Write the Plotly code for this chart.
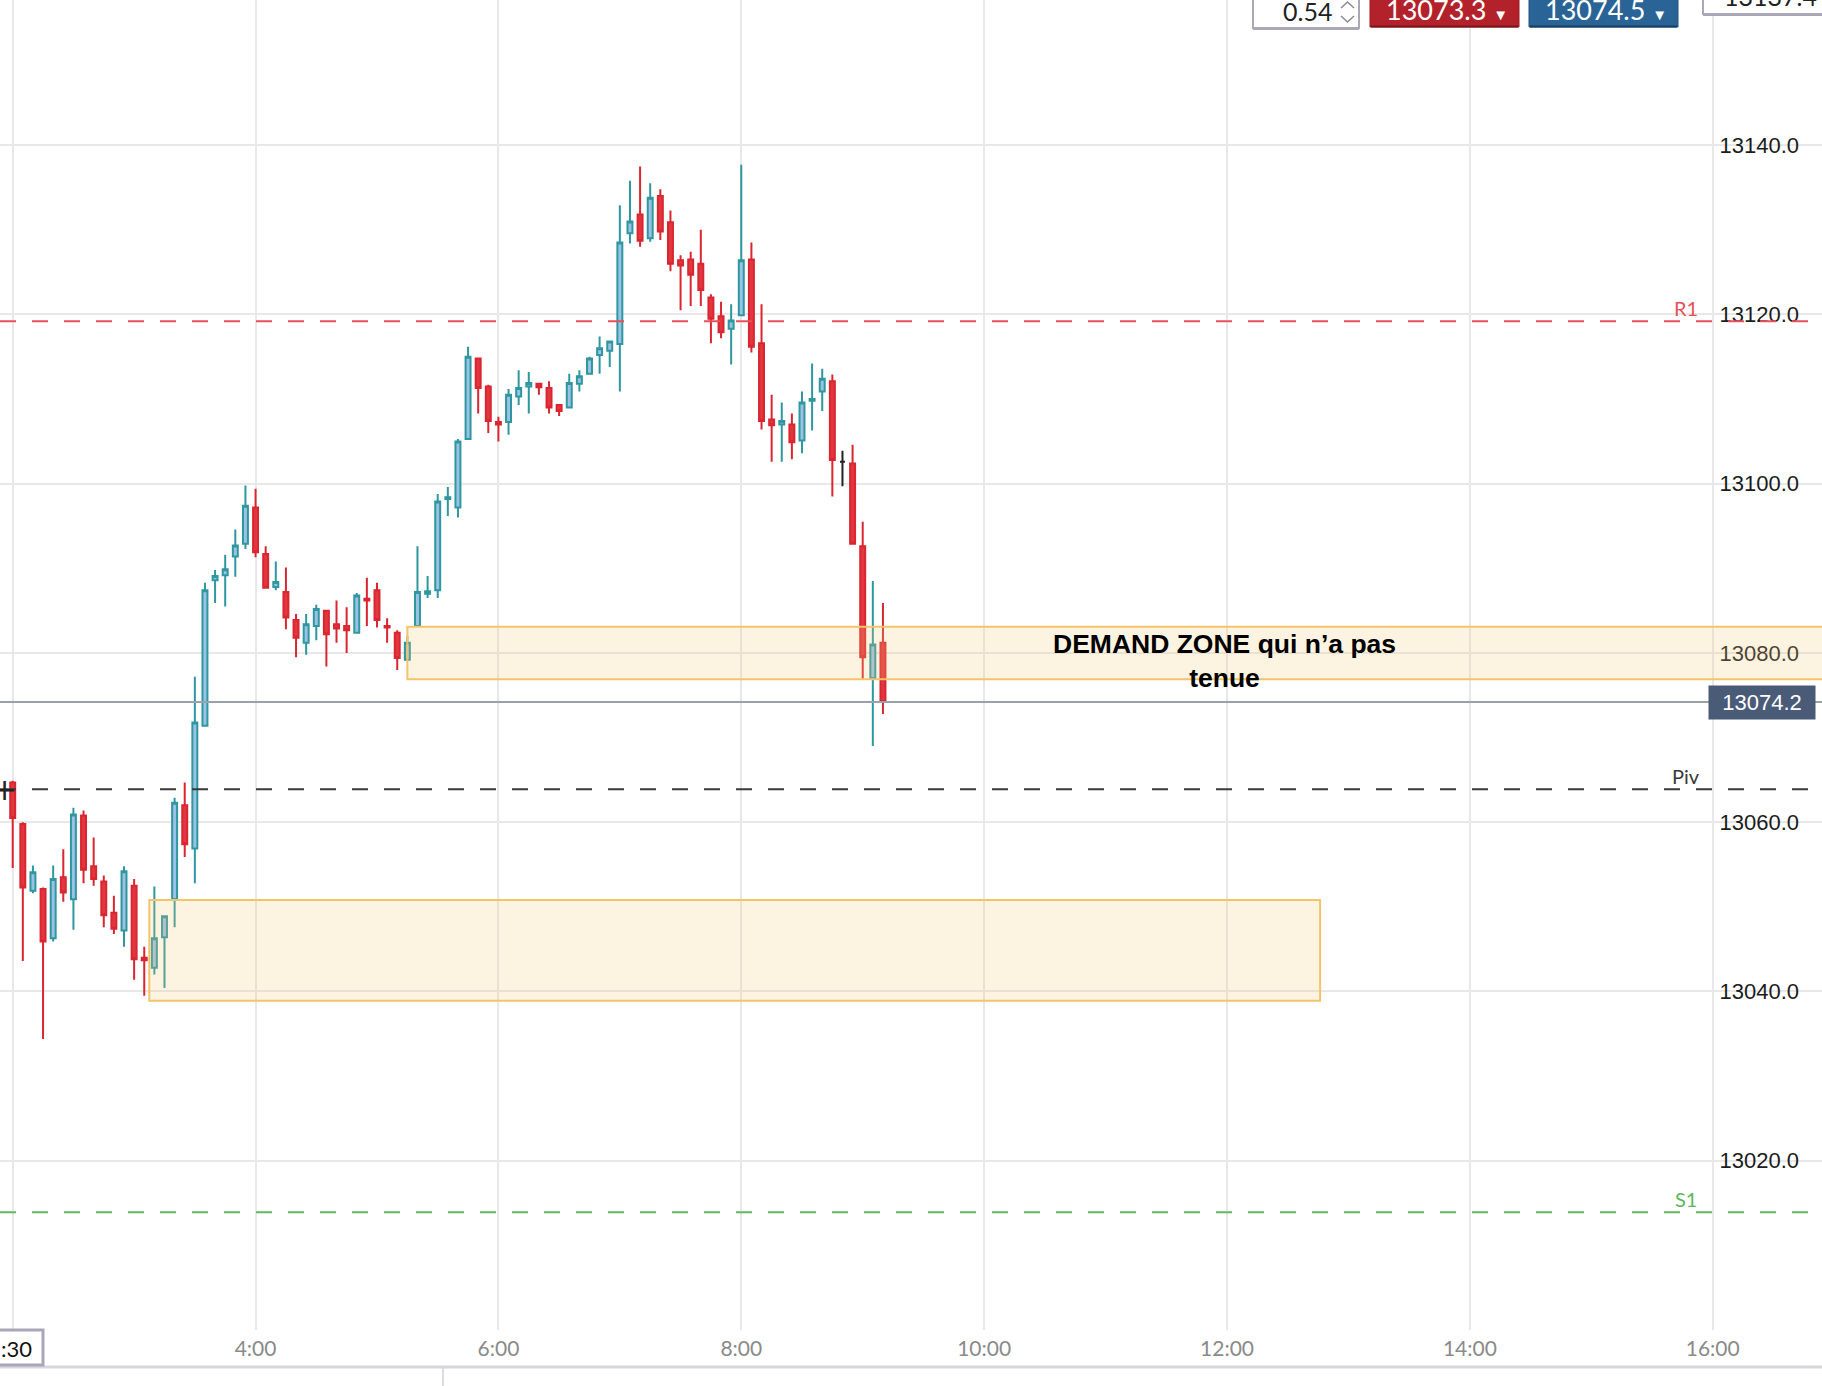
import pandas as pd
import plotly.graph_objects as go

# ---------------- data ----------------
DAY = "2021-01-04"
opens = [13064.7, 13059.8, 13051.9, 13052.1, 13046.3, 13053.5, 13050.9, 13060.8, 13054.8, 13053.0,
         13049.3, 13047.2, 13052.5, 13044.0, 13042.8, 13046.4, 13050.9, 13062.0, 13056.9, 13071.4,
         13088.6, 13089.2, 13091.4, 13092.9, 13097.2, 13091.7, 13087.8, 13087.2, 13083.9, 13081.2,
         13083.2, 13085.0, 13083.4, 13083.2, 13082.4, 13086.4, 13087.4, 13083.2, 13082.4, 13079.2,
         13083.2, 13087.0, 13087.4, 13098.2, 13097.2, 13105.3, 13114.8, 13111.5, 13107.3, 13107.3,
         13110.3, 13111.5, 13111.8, 13111.3, 13109.3, 13109.0, 13111.8, 13113.0, 13115.2, 13115.7,
         13116.5, 13129.6, 13131.8, 13129.0, 13134.0, 13130.9, 13126.4, 13126.5, 13126.0, 13122.0,
         13119.8, 13118.3, 13119.9, 13126.5, 13116.6, 13107.6, 13107.0, 13107.0, 13105.1, 13109.8,
         13110.9, 13112.1, 13102.6, 13102.4, 13092.6, 13077.0, 13081.2]
highs = [13064.9, 13060.0, 13054.9, 13052.3, 13054.9, 13056.8, 13061.7, 13061.4, 13058.2, 13053.7,
         13051.3, 13054.8, 13053.3, 13045.3, 13052.4, 13049.0, 13062.9, 13064.7, 13077.2, 13088.3,
         13089.8, 13091.6, 13094.6, 13099.8, 13099.4, 13092.6, 13090.8, 13090.1, 13084.6, 13084.6,
         13085.7, 13085.1, 13086.2, 13085.4, 13087.1, 13088.9, 13088.3, 13084.1, 13082.7, 13082.0,
         13092.6, 13089.1, 13098.8, 13099.6, 13105.3, 13116.2, 13114.8, 13111.7, 13107.9, 13111.2,
         13113.4, 13113.2, 13111.8, 13112.1, 13109.3, 13113.0, 13113.4, 13115.0, 13117.4, 13116.8,
         13132.9, 13135.8, 13137.5, 13135.5, 13134.8, 13132.3, 13127.0, 13127.4, 13130.0, 13122.4,
         13121.5, 13121.2, 13137.7, 13128.5, 13121.2, 13110.5, 13109.6, 13108.3, 13110.9, 13114.2,
         13113.6, 13112.9, 13103.9, 13104.6, 13095.5, 13088.5, 13085.9]
lows = [13054.6, 13043.6, 13051.6, 13034.4, 13045.9, 13050.6, 13047.3, 13052.8, 13052.5, 13047.6,
        13046.8, 13045.3, 13041.4, 13039.5, 13042.0, 13040.4, 13047.6, 13055.9, 13052.8, 13071.4,
        13085.9, 13085.5, 13089.0, 13092.3, 13091.3, 13087.7, 13087.4, 13082.8, 13079.5, 13079.8,
        13081.5, 13078.4, 13081.2, 13080.0, 13082.4, 13083.2, 13083.0, 13081.2, 13078.0, 13079.2,
        13083.2, 13086.5, 13086.5, 13096.2, 13096.0, 13105.3, 13108.3, 13106.0, 13105.0, 13105.8,
        13109.3, 13108.3, 13110.5, 13108.3, 13108.0, 13109.0, 13110.9, 13113.0, 13113.0, 13113.8,
        13110.9, 13128.4, 13128.0, 13128.6, 13128.8, 13125.1, 13120.5, 13121.0, 13121.0, 13116.6,
        13117.2, 13114.1, 13119.9, 13115.5, 13106.4, 13102.6, 13102.6, 13102.9, 13103.6, 13106.3,
        13108.6, 13098.5, 13099.7, 13092.9, 13076.9, 13069.0, 13072.8]
closes = [13060.5, 13052.3, 13054.1, 13045.9, 13053.3, 13051.7, 13060.9, 13054.4, 13053.3, 13049.0,
          13047.4, 13054.2, 13043.8, 13043.7, 13046.3, 13048.9, 13062.3, 13057.4, 13071.8, 13087.4,
          13089.1, 13089.9, 13092.7, 13097.4, 13091.9, 13087.7, 13088.4, 13084.2, 13081.8, 13083.4,
          13085.2, 13082.2, 13082.9, 13082.7, 13086.8, 13086.2, 13083.9, 13083.0, 13079.4, 13081.2,
          13087.2, 13087.3, 13097.9, 13098.4, 13105.0, 13115.0, 13111.3, 13107.4, 13107.0, 13110.5,
          13111.3, 13111.9, 13111.4, 13109.0, 13108.6, 13111.9, 13112.7, 13114.8, 13116.0, 13116.8,
          13128.5, 13131.0, 13128.7, 13133.8, 13129.8, 13126.0, 13125.8, 13124.7, 13122.9, 13119.5,
          13117.9, 13119.3, 13126.4, 13116.2, 13107.4, 13106.9, 13107.4, 13104.9, 13109.6, 13110.0,
          13112.4, 13102.8, 13102.6, 13092.9, 13079.5, 13081.0, 13074.2]
neutral_idx = [82]          # unchanged candle drawn in black

R1, PIV, S1 = 13119.2, 13063.9, 13013.9
last_price = 13074.2
zone_low = dict(start="03:07:30", end="12:46", y0=13038.9, y1=13050.8)
zone_high = dict(start="05:15", end="17:30", y0=13076.9, y1=13083.1)
zone_text = "DEMAND ZONE qui n’a pas<br>tenue"

y_ticks = [13020, 13040, 13060, 13080, 13100, 13120, 13140]
x_tick_hours = [2, 4, 6, 8, 10, 12, 14, 16]
x_tick_text = ["", "4:00", "6:00", "8:00", "10:00", "12:00", "14:00", "16:00"]

bid, ask, spread, high_box = "13073.3", "13074.5", "0.54", "13137.4"

# ---------------- geometry ----------------
W, H = 1822, 1386
PLOT_H = 1330
start = pd.Timestamp(f"{DAY} 02:00")
times = pd.date_range(start, periods=len(opens), freq="5min")
px_per_hour = 121.43
x_left = start - pd.Timedelta(hours=12.7 / px_per_hour)
x_right = start + pd.Timedelta(hours=(W - 12.7) / px_per_hour)
y_range = [13000.0, 13157.16]


def t(hm):
    return pd.Timestamp(f"{DAY} {hm}")


def px(xp):
    return xp / W


def py(yp):
    return (PLOT_H - yp) / PLOT_H


main_idx = [i for i in range(len(opens)) if i not in neutral_idx]

fig = go.Figure()
fig.add_trace(go.Candlestick(
    x=[times[i] for i in main_idx],
    open=[opens[i] for i in main_idx], high=[highs[i] for i in main_idx],
    low=[lows[i] for i in main_idx], close=[closes[i] for i in main_idx],
    increasing=dict(line=dict(color="#2e97a0", width=2), fillcolor="#9bc2e5"),
    decreasing=dict(line=dict(color="#d92631", width=2), fillcolor="#e2373f"),
    whiskerwidth=0, hoverinfo="skip", showlegend=False))
fig.add_trace(go.Candlestick(
    x=[times[i] for i in neutral_idx],
    open=[opens[i] for i in neutral_idx], high=[highs[i] for i in neutral_idx],
    low=[lows[i] for i in neutral_idx], close=[closes[i] for i in neutral_idx],
    increasing=dict(line=dict(color="#222222", width=2), fillcolor="#222222"),
    decreasing=dict(line=dict(color="#222222", width=2), fillcolor="#222222"),
    whiskerwidth=0, hoverinfo="skip", showlegend=False))

shapes = []
zone_fill = "rgba(245,200,120,0.22)"
zone_line = "#f3c46b"
for z in (zone_low, zone_high):
    shapes.append(dict(type="rect", xref="x", yref="y", x0=t(z["start"]), x1=t(z["end"]),
                       y0=z["y0"], y1=z["y1"], fillcolor=zone_fill,
                       line=dict(color=zone_line, width=2), layer="above"))
for val, col, w in ((R1, "#e5525c", 2), (PIV, "#3a3a3a", 2.2), (S1, "#62b862", 2)):
    shapes.append(dict(type="line", xref="paper", yref="y", x0=0, x1=1, y0=val, y1=val,
                       line=dict(color=col, width=w, dash="16px,16px"), layer="above"))
shapes.append(dict(type="line", xref="paper", yref="y", x0=0, x1=1, y0=last_price, y1=last_price,
                   line=dict(color="#98a2ad", width=2), layer="above"))

# bottom axis line and separator
shapes.append(dict(type="line", xref="paper", yref="paper", x0=0, x1=1, y0=py(1367), y1=py(1367),
                   line=dict(color="#d6d6dc", width=3), layer="above"))
shapes.append(dict(type="line", xref="paper", yref="paper", x0=px(443), x1=px(443), y0=py(1368),
                   y1=py(1390), line=dict(color="#d0d0d8", width=1.5), layer="above"))
# crosshair time box
shapes.append(dict(type="rect", xref="paper", yref="paper", x0=px(-5), x1=px(43), y0=py(1365),
                   y1=py(1330), fillcolor="white", line=dict(color="#a9a7b7", width=3), layer="above"))

# top widgets
grey_border = "#aaa7b6"
shapes += [
    dict(type="rect", xref="paper", yref="paper", x0=px(1253), x1=px(1359), y0=py(28), y1=py(-10),
         fillcolor="white", line=dict(color=grey_border, width=2), layer="above"),
    dict(type="line", xref="paper", yref="paper", x0=px(1253), x1=px(1359), y0=py(28.5), y1=py(28.5),
         line=dict(color=grey_border, width=3), layer="above"),
    dict(type="path", xref="paper", yref="paper",
         path=f"M {px(1341)} {py(8)} L {px(1347.5)} {py(2)} L {px(1354)} {py(8)}",
         line=dict(color="#8b8b95", width=1.5), layer="above"),
    dict(type="path", xref="paper", yref="paper",
         path=f"M {px(1341)} {py(16)} L {px(1347.5)} {py(22)} L {px(1354)} {py(16)}",
         line=dict(color="#8b8b95", width=1.5), layer="above"),
    dict(type="rect", xref="paper", yref="paper", x0=px(1370), x1=px(1519), y0=py(27), y1=py(-10),
         fillcolor="#b3222a", line=dict(color="#9a1b22", width=1), layer="above"),
    dict(type="line", xref="paper", yref="paper", x0=px(1371), x1=px(1518), y0=py(26.5), y1=py(26.5),
         line=dict(color="#7d141a", width=2), layer="above"),
    dict(type="rect", xref="paper", yref="paper", x0=px(1529), x1=px(1678), y0=py(27), y1=py(-10),
         fillcolor="#2a6396", line=dict(color="#215381", width=1), layer="above"),
    dict(type="line", xref="paper", yref="paper", x0=px(1530), x1=px(1677), y0=py(26.5), y1=py(26.5),
         line=dict(color="#173f63", width=2), layer="above"),
    dict(type="rect", xref="paper", yref="paper", x0=px(1703), x1=px(1830), y0=py(14), y1=py(-10),
         fillcolor="white", line=dict(color=grey_border, width=2), layer="above"),
    dict(type="line", xref="paper", yref="paper", x0=px(1703), x1=px(1822), y0=py(14.5), y1=py(14.5),
         line=dict(color=grey_border, width=3), layer="above"),
]

ann = []
ann.append(dict(xref="paper", yref="paper", x=px(1224), y=py(661), text=f"<b>{zone_text}</b>",
                showarrow=False, align="center", xanchor="center", yanchor="middle",
                font=dict(family="Liberation Sans, Arial", size=26.5, color="#000000")))
for label, val, col in (("R1", R1, "#e5525c"), ("Piv", PIV, "#3a3a3a"), ("S1", S1, "#5cb85c")):
    ann.append(dict(xref="paper", yref="y", x=px(1686), y=val, yshift=13, text=label, showarrow=False,
                    xanchor="center", yanchor="middle", font=dict(family="Lato", size=20, color=col)))
ann.append(dict(xref="paper", yref="y", x=px(1816), y=last_price, text=f"{last_price:.1f}",
                showarrow=False, xanchor="right", yanchor="middle", bgcolor="#4a5b78",
                width=98, borderpad=4, align="center",
                font=dict(family="Liberation Sans, Arial", size=22, color="white")))
ann.append(dict(xref="paper", yref="y", x=px(4), y=PIV, text="+", showarrow=False,
                xanchor="center", yanchor="middle",
                font=dict(family="DejaVu Sans", size=30, color="#222222")))
ann.append(dict(xref="paper", yref="paper", x=px(34), y=py(1348), text=":30", showarrow=False,
                xanchor="right", yanchor="middle",
                font=dict(family="Lato", size=22, color="#111111")))
ann.append(dict(xref="paper", yref="paper", x=px(1334), y=py(11), text=spread, showarrow=False,
                xanchor="right", yanchor="middle",
                font=dict(family="Lato", size=25, color="#222222")))
for txt, cx in ((bid, 1447), (ask, 1606)):
    ann.append(dict(xref="paper", yref="paper", x=px(cx), y=py(9),
                    text=f"{txt} <span style='font-size:15px'>▼</span>", showarrow=False,
                    xanchor="center", yanchor="middle",
                    font=dict(family="Lato", size=27, color="white")))
ann.append(dict(xref="paper", yref="paper", x=px(1722), y=py(-4), text=high_box, showarrow=False,
                xanchor="left", yanchor="middle",
                font=dict(family="Lato", size=25, color="#222222")))

fig.update_layout(
    width=W, height=H, autosize=False,
    margin=dict(l=0, r=0, t=0, b=H - PLOT_H, pad=0),
    paper_bgcolor="white", plot_bgcolor="white",
    shapes=shapes, annotations=ann, showlegend=False,
    xaxis=dict(type="date", range=[x_left, x_right], rangeslider=dict(visible=False),
               tickvals=[start + pd.Timedelta(hours=h - 2) for h in x_tick_hours],
               ticktext=x_tick_text, showgrid=True, gridcolor="#e8e8eb", gridwidth=1.5,
               zeroline=False, showline=False, ticks="", ticklabelstandoff=4,
               tickfont=dict(family="Lato", size=21, color="#8a8a8a")),
    yaxis=dict(range=y_range, side="right", tickvals=y_ticks, tickformat=".1f",
               ticklabelposition="inside", ticklabelstandoff=20, ticks="",
               showgrid=True, gridcolor="#e8e8eb", gridwidth=1.5, zeroline=False, showline=False,
               tickfont=dict(family="Liberation Sans, Arial", size=22, color="#1c1c1c")),
)

fig.write_html("out.html", config={"displayModeBar": False},
               post_script="document.body.style.margin='0px';document.body.style.overflow='hidden';")
